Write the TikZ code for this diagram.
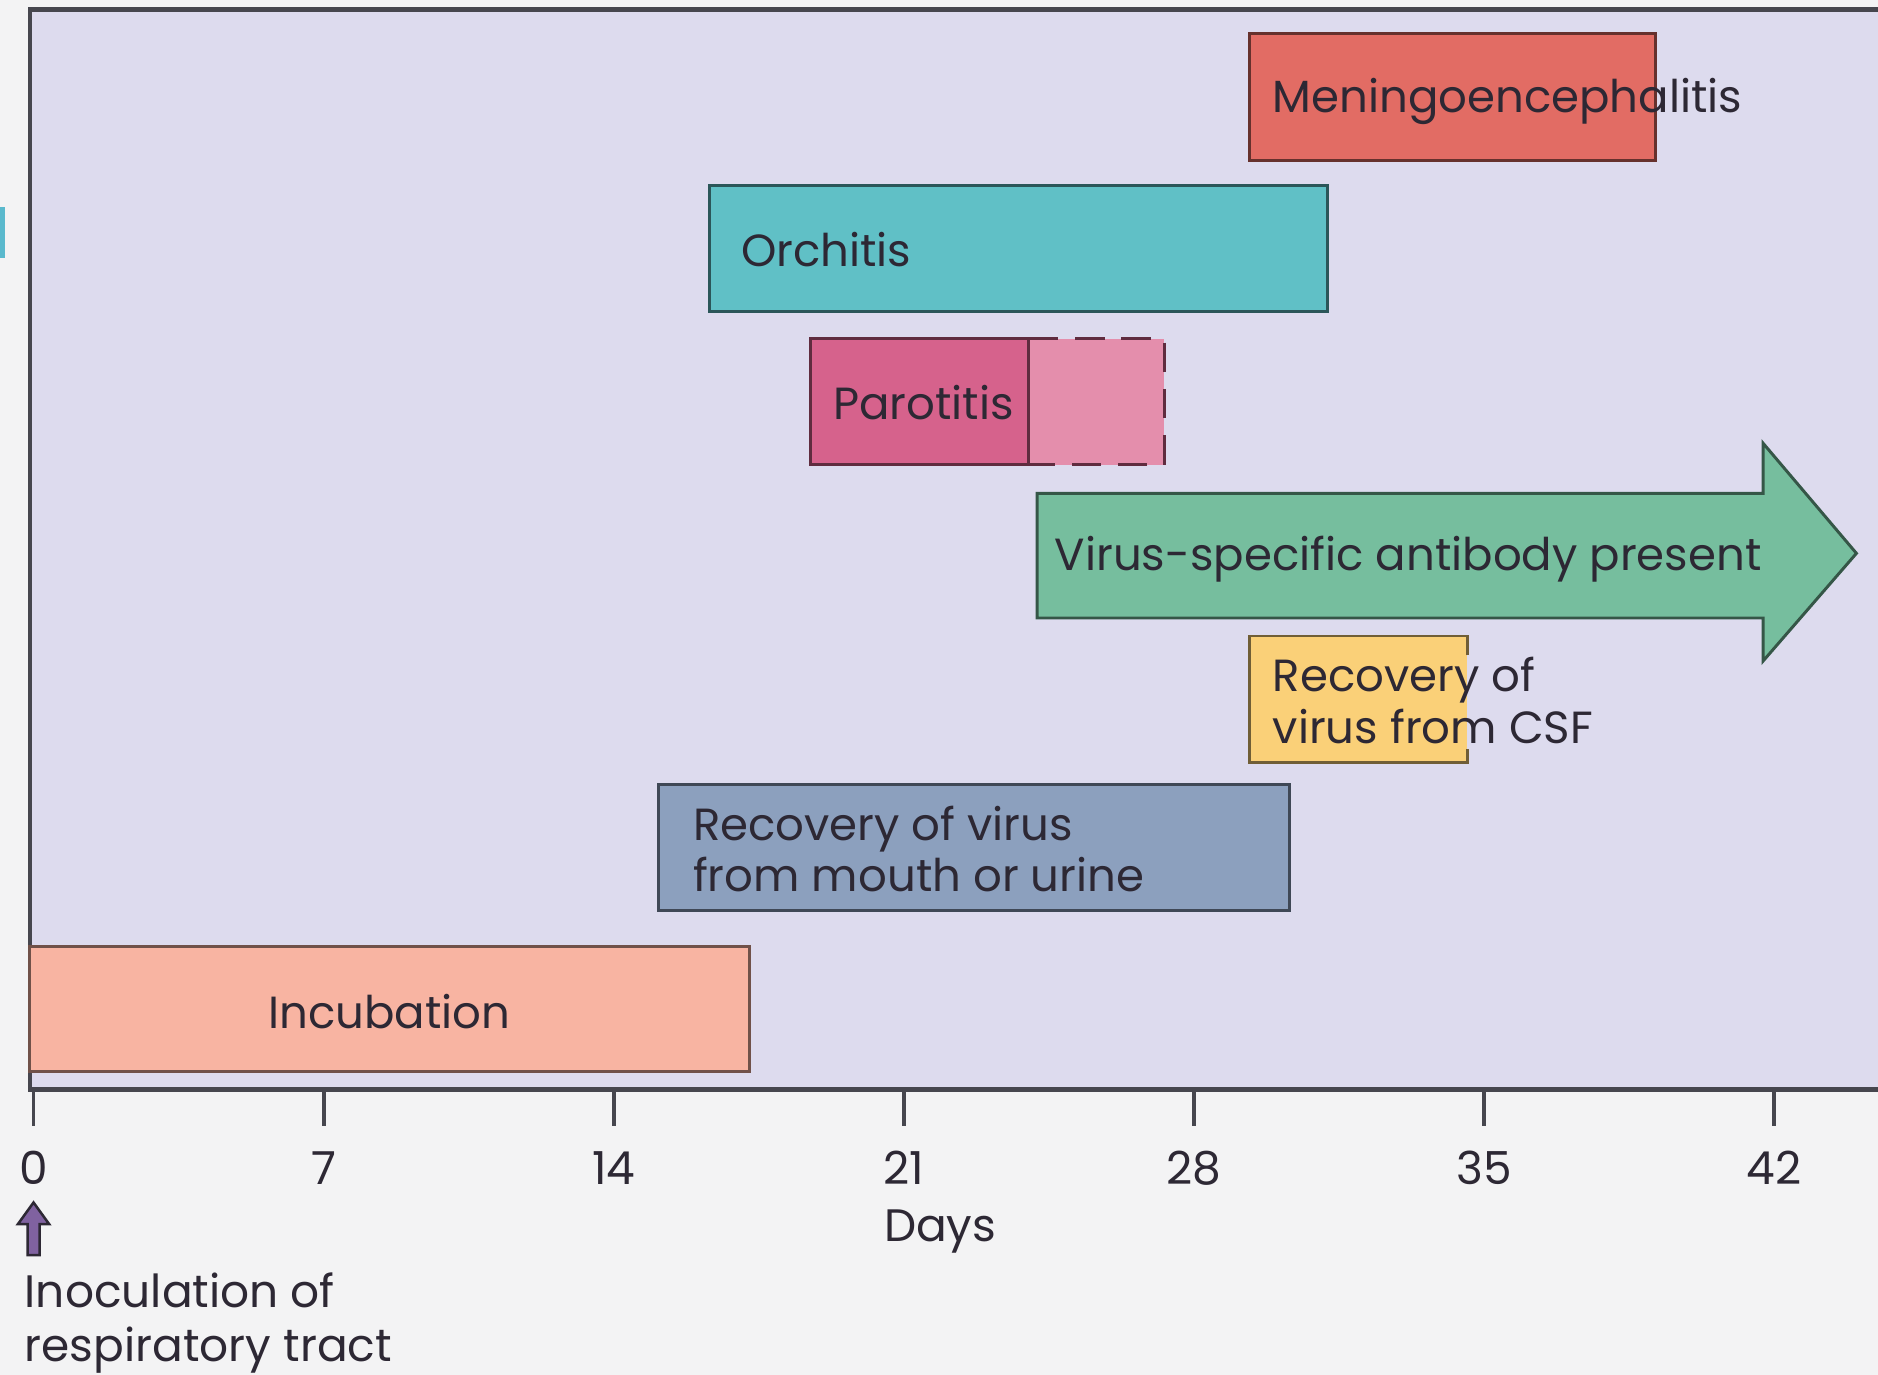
\documentclass[tikz,border=0pt]{standalone}
\usepackage{fontspec}
\setmainfont{Poppins}
\usetikzlibrary{positioning}
\definecolor{paper}{RGB}{243,243,244}
\definecolor{lavender}{RGB}{221,219,238}
\definecolor{frame}{RGB}{70,70,78}
\definecolor{ink}{RGB}{45,40,52}
\definecolor{slidecyan}{RGB}{90,185,205}
\definecolor{meningo}{RGB}{226,108,100}
\definecolor{orchitis}{RGB}{96,192,198}
\definecolor{parotid}{RGB}{214,98,140}
\definecolor{parotidlight}{RGB}{228,142,172}
\definecolor{antibody}{RGB}{118,190,158}
\definecolor{csf}{RGB}{250,208,120}
\definecolor{mouth}{RGB}{140,160,190}
\definecolor{incub}{RGB}{248,180,162}
\definecolor{inoc}{RGB}{128,98,160}

\begin{document}
\begin{tikzpicture}[x=0.1mm, y=-0.1mm,
    barbox/.style={draw=#1!45!black, fill=#1, line width=0.7pt},
    lbl/.style={anchor=west, inner sep=0pt, align=left, text=ink,
      font=\fontsize{10.7}{12.2}\selectfont},
    axislbl/.style={inner sep=0pt, text=ink, font=\fontsize{10.8}{12.8}\selectfont}]
    \useasboundingbox (0,0) rectangle (1568,1148);
    \fill[paper] (0,0) rectangle (1568,1148);
    \fill[slidecyan] (0,173) rectangle (4,215);
    \filldraw[fill=lavender, draw=frame, line width=1pt] (25,8) rectangle (1572,910);

    % bars
    \filldraw[barbox=meningo] (1043,28) rectangle (1382,134);
    \node[lbl] (meningo) at (1062,85) {Meningoencephalitis};
    \filldraw[barbox=orchitis] (592,155) rectangle (1108,260);
    \node[lbl] (orchitis) at (618,208) {Orchitis};
    \fill[parotidlight] (859,283) rectangle (972,388);
    \draw[parotid!45!black, line width=0.7pt, dash pattern=on 7pt off 4pt]
        (859,283) -- (972,283) -- (972,388) -- (859,388);
    \filldraw[barbox=parotid] (677,283) rectangle (859,388);
    \node[lbl] (parotitis) at (695,336) {Parotitis};
    \filldraw[barbox=antibody] (866,412) -- (1472,412) -- (1472,370) -- (1550,462)
        -- (1472,552) -- (1472,516) -- (866,516) -- cycle;
    \node[lbl] (antibody) at (880,467) {Virus-specific antibody present};
    \fill[csf] (1043,531) rectangle (1225,637);
    \draw[csf!45!black, line width=0.7pt] (1225,547) -- (1225,531) -- (1043,531)
        -- (1043,637) -- (1225,637) -- (1225,625);
    \node[lbl] (csf) at (1062,585) {Recovery of\\virus from CSF};
    \filldraw[barbox=mouth] (550,655) rectangle (1077,760);
    \node[lbl] (mouth) at (578,709) {Recovery of virus\\from mouth or urine};
    \filldraw[barbox=incub] (25,790) rectangle (626,895);
    \node[lbl, anchor=center] (incub) at (325,845) {Incubation};

    % time axis
    \draw[frame, line width=1.2pt] (25,910) -- (1568,910);
    \foreach \d in {0,7,...,42} {
        \draw[frame, line width=0.9pt] ({28+34.6*\d},910) -- ++(0,30);
        \node[axislbl] (tick\d) at ({28+34.6*\d},975) {\d};
    }
    \node[axislbl] (days) at (785,1028) {Days};
    \filldraw[fill=inoc, draw=ink, line width=0.6pt] (23,1048) -- (23,1022) -- (15,1022)
        -- (28,1004) -- (41,1022) -- (33,1022) -- (33,1048) -- cycle;
    \node[lbl, font=\fontsize{10.8}{12.8}\selectfont] (inoc) at (20,1105)
        {Inoculation of\\respiratory tract};
\end{tikzpicture}
\end{document}
